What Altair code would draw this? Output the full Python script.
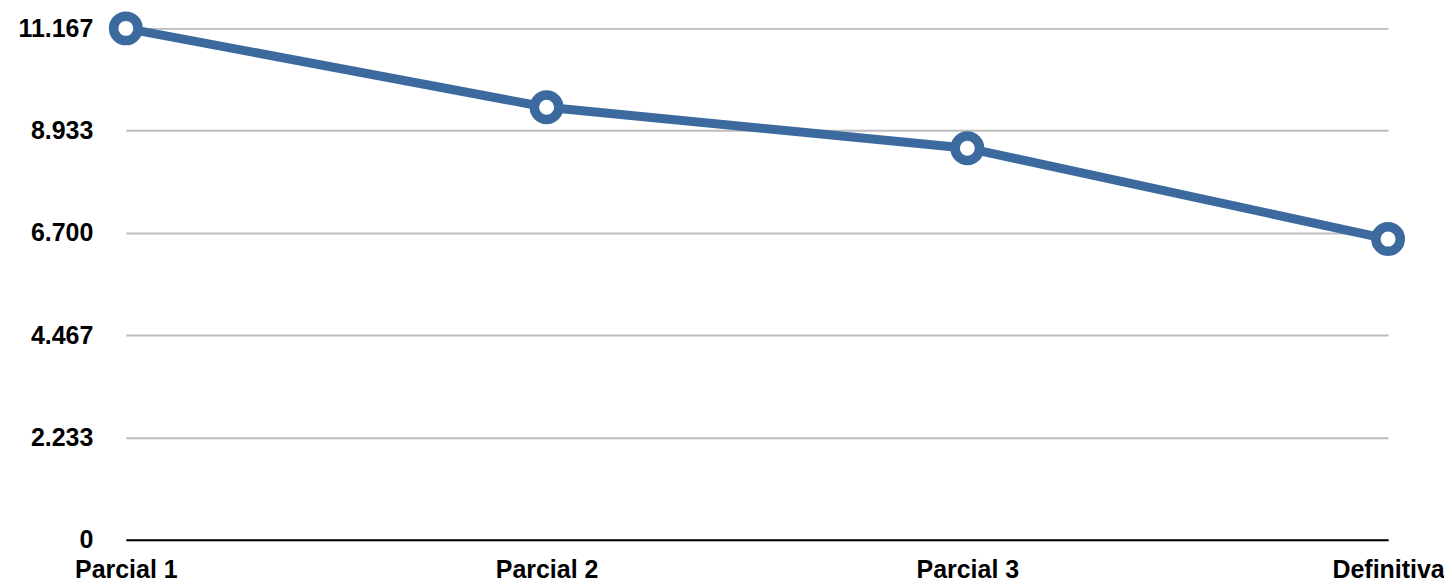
import altair as alt
import pandas as pd

categories = ["Parcial 1", "Parcial 2", "Parcial 3", "Definitiva"]
values = [11167, 9444, 8550, 6565]
y_ticks = [0, 2233, 4467, 6700, 8933, 11167]

df = pd.DataFrame({"cat": categories, "val": values})

FONT = "Liberation Sans"
COLOR = "#3C6A9F"

x = alt.X("cat:N", sort=categories, title=None,
          scale=alt.Scale(type="point", padding=0),
          axis=alt.Axis(labelAngle=0, labelFont=FONT, labelFontSize=25, labelFontWeight="bold",
                        labelColor="black", ticks=False, labelPadding=18, domainColor="black",
                        domainWidth=2, grid=False, labelAlign="center", labelOverlap=False))
y = alt.Y("val:Q", title=None,
          scale=alt.Scale(domain=[0, 11167], nice=False, zero=True),
          axis=alt.Axis(values=y_ticks, labelFont=FONT, labelFontSize=25, labelFontWeight="bold",
                        labelColor="black", ticks=False, domain=False, labelPadding=33,
                        gridColor="#bdbdbd", gridWidth=2,
                        labelExpr="replace(format(datum.value, ','), ',', '.')"))

line = alt.Chart(df).mark_line(color=COLOR, strokeWidth=9).encode(x=x, y=y)
points = alt.Chart(df).mark_point(shape="circle", size=600, filled=True, fill="white",
                                  stroke=COLOR, strokeWidth=9.5, opacity=1).encode(x=x, y=y)

chart = (line + points).properties(
    width=1264, height=512,
    autosize=alt.AutoSizeParams(type="none"),
    padding={"left": 118, "top": 20, "right": 56, "bottom": 50},
).configure(background="white").configure_view(stroke=None)

chart.save("out.html", embed_options={"renderer": "svg", "actions": False})
